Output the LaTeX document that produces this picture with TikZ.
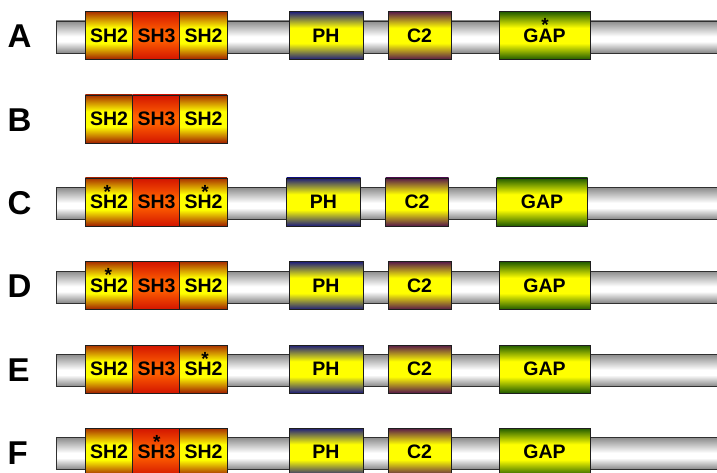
\documentclass[tikz,border=0pt]{standalone}
\usepackage{fontspec}
\setmainfont{Liberation Sans}
\definecolor{barline}{HTML}{303030}
\definecolor{domline}{HTML}{1E1E1E}
\definecolor{bartop}{HTML}{8C8C8C}
\definecolor{barbot}{HTML}{858585}
\definecolor{sh2top}{HTML}{A82E00}
\definecolor{sh2bot}{HTML}{A01E00}
\definecolor{sh3edge}{HTML}{D21400}
\definecolor{sh3mid}{HTML}{FF6000}
\definecolor{phedge}{HTML}{1C1C7A}
\definecolor{ctwoedge}{HTML}{561848}
\definecolor{gapedge}{HTML}{1F5A00}
\definecolor{domyellow}{HTML}{FFFF00}
\pgfdeclareverticalshading{barshade}{100bp}{color(0bp)=(barbot); color(25bp)=(barbot); color(43bp)=(white); color(51bp)=(white); color(75bp)=(bartop); color(100bp)=(bartop)}
\pgfdeclareverticalshading{sh2shade}{100bp}{color(0bp)=(sh2bot); color(25bp)=(sh2bot); color(42bp)=(domyellow); color(58bp)=(domyellow); color(75bp)=(sh2top); color(100bp)=(sh2top)}
\pgfdeclareverticalshading{sh3shade}{100bp}{color(0bp)=(sh3edge); color(25bp)=(sh3edge); color(46bp)=(sh3mid); color(54bp)=(sh3mid); color(75bp)=(sh3edge); color(100bp)=(sh3edge)}
\pgfdeclareverticalshading{phshade}{100bp}{color(0bp)=(phedge); color(25bp)=(phedge); color(42bp)=(domyellow); color(58bp)=(domyellow); color(75bp)=(phedge); color(100bp)=(phedge)}
\pgfdeclareverticalshading{ctwoshade}{100bp}{color(0bp)=(ctwoedge); color(25bp)=(ctwoedge); color(42bp)=(domyellow); color(58bp)=(domyellow); color(75bp)=(ctwoedge); color(100bp)=(ctwoedge)}
\pgfdeclareverticalshading{gapshade}{100bp}{color(0bp)=(gapedge); color(25bp)=(gapedge); color(42bp)=(domyellow); color(58bp)=(domyellow); color(75bp)=(gapedge); color(100bp)=(gapedge)}
\tikzset{
  protbar/.style={draw=barline, line width=0.9pt, shading=barshade, minimum height=32pt, minimum width=674pt, inner sep=0pt},
  dom/.style={draw=domline, line width=0.9pt, inner sep=0pt, minimum height=48pt, text=black,
    font=\fontsize{19.5}{21}\selectfont\bfseries},
  sh2box/.style={dom, shading=sh2shade, minimum width=47.4pt},
  sh3box/.style={dom, shading=sh3shade, minimum width=47.4pt},
  phbox/.style={dom, shading=phshade, minimum width=74pt},
  ctwobox/.style={dom, shading=ctwoshade, minimum width=63pt},
  gapbox/.style={dom, shading=gapshade, minimum width=91pt},
  starmark/.style={anchor=base, inner sep=0pt, font=\fontsize{19}{21}\selectfont\bfseries},
  rowlabel/.style={anchor=base west, inner sep=0pt, font=\fontsize{33}{36}\selectfont\bfseries}
}
\newcommand\leftdomains[2]{%
  \node[sh2box] (sh2a#1) at (109,#2) {SH2};
  \node[sh3box] (sh3#1) at (156.5,#2) {SH3};
  \node[sh2box] (sh2b#1) at (203.5,#2) {SH2};
}
\newcommand\fullrow[3]{%
  \node[protbar] (bar#1) at (393,#2+1.5) {};
  \leftdomains{#1}{#2}
  \node[phbox, xshift=#3pt] (ph#1) at (326,#2) {PH};
  \node[ctwobox, xshift=#3pt] (ctwo#1) at (419.5,#2) {C2};
  \node[gapbox, xshift=#3pt] (gap#1) at (544.5,#2) {GAP};
}
\begin{document}
\begin{tikzpicture}[x=1pt,y=-1pt]
\clip (0,0) rectangle (717,473);
\fill[white] (0,0) rectangle (717,473);
% row A
\fullrow{A}{35.5}{0}
\node[rowlabel] (labA) at (7.5,47.3) {A};
\node[starmark] (starA) at (545,31.6) {*};
% row B
\leftdomains{B}{119}
\node[rowlabel] (labB) at (7.5,131.3) {B};
% row C
\fullrow{C}{202}{-2.5}
\node[rowlabel] (labC) at (7.5,214.3) {C};
\node[starmark] (starCa) at (107.3,198.1) {*};
\node[starmark] (starCb) at (205,198.1) {*};
% row D
\fullrow{D}{285.5}{0}
\node[rowlabel] (labD) at (7.5,297.8) {D};
\node[starmark] (starD) at (108.3,281.6) {*};
% row E
\fullrow{E}{369}{0}
\node[rowlabel] (labE) at (7.5,381.3) {E};
\node[starmark] (starE) at (205,365.1) {*};
% row F
\fullrow{F}{452}{0}
\node[rowlabel] (labF) at (7.5,464.3) {F};
\node[starmark] (starF) at (156.7,448.1) {*};
\end{tikzpicture}
\end{document}
